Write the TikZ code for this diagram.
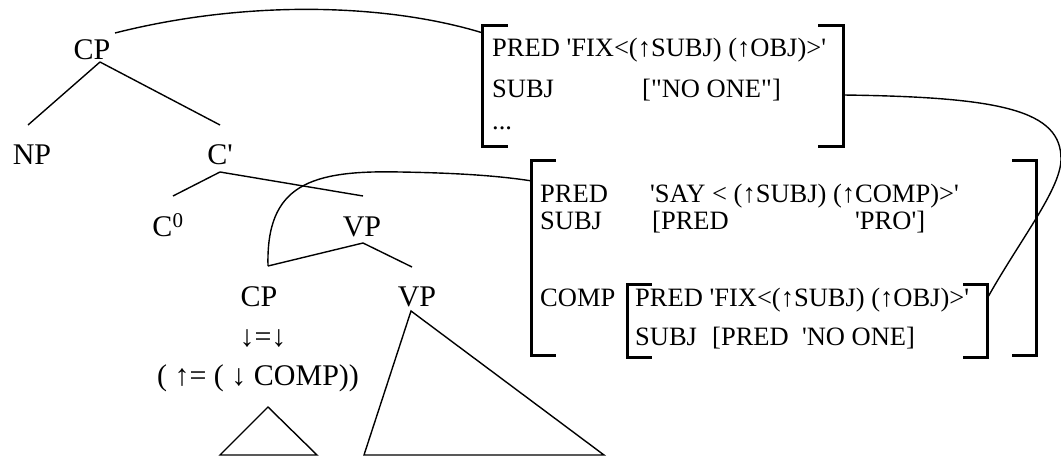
\documentclass[tikz,border=0pt]{standalone}
\usepackage{fontspec}
\setmainfont{Liberation Serif}
\newcommand\sq{\textquotesingle}
\newcommand\dq{\textquotedbl}
\begin{document}
\begin{tikzpicture}[x=1pt,y=-1pt,
  tree/.style={font=\fontsize{30}{36}\selectfont, inner sep=0pt, anchor=base},
  avm/.style={font=\fontsize{26.5}{30}\selectfont, inner sep=0pt, anchor=base west},
  brk/.style={line width=3pt},
  edge/.style={line width=1.4pt},
  link/.style={line width=1.4pt},
  fbox/.style={draw=none, inner sep=0pt}]
\useasboundingbox (0,0) rectangle (1061,457);

% ---------------- tree ----------------
\node[tree] (cp1) at (92,60) {CP};
\node[tree] (np) at (32,165) {NP};
\node[tree] (cbar) at (220,165) {C\sq};
\node[tree] (c0) at (168,237) {C\textsuperscript{0}};
\node[tree] (vp1) at (362,237) {VP};
\node[tree] (cp2) at (259,307) {CP};
\node[tree] (vp2) at (417,307) {VP};
\node[tree] (ann1) at (263,346) {↓=↓};
\node[tree] (ann2) at (258,385) {( ↑= ( ↓ COMP))};

\coordinate (cp1j) at (100,62);
\coordinate (npj) at (28,125);
\coordinate (cbj) at (220,125);
\coordinate (cbj2) at (220,172);
\coordinate (c0j) at (173,196);
\coordinate (vp1j) at (363,196);
\coordinate (vp1b) at (363,243);
\coordinate (cp2j) at (268,266);
\coordinate (vp2j) at (412,267);

\draw[edge] (cp1j) -- (npj);
\draw[edge] (cp1j) -- (cbj);
\draw[edge] (cbj2) -- (c0j);
\draw[edge] (cbj2) -- (vp1j);
\draw[edge] (vp1b) -- (cp2j);
\draw[edge] (vp1b) -- (vp2j);

% triangles
\coordinate (t1a) at (268,407);
\coordinate (t1l) at (220,455);
\coordinate (t1r) at (317,455);
\draw[edge] (t1a) -- (t1l) -- (t1r) -- cycle;
\coordinate (t2a) at (411,311);
\coordinate (t2l) at (364,455);
\coordinate (t2r) at (604,455);
\draw[edge] (t2a) -- (t2l) -- (t2r) -- cycle;

% ---------------- AVM frames ----------------
\node[fbox, minimum width=360pt, minimum height=120pt] (f1) at (663,86) {};
\node[fbox, minimum width=504pt, minimum height=194pt] (f2) at (784,258) {};
\node[fbox, minimum width=359pt, minimum height=72pt] (f3) at (807.5,321) {};

\foreach \f/\s in {f1/25pt, f2/24pt, f3/24pt}{
  \draw[brk] ([xshift=\s]\f.north west) -- (\f.north west) -- (\f.south west) -- ([xshift=\s]\f.south west);
  \draw[brk] ([xshift=-\s]\f.north east) -- (\f.north east) -- (\f.south east) -- ([xshift=-\s]\f.south east);
}

% AVM 1
\node[avm] (a1p) at (492,57) {PRED \sq FIX<(↑SUBJ) (↑OBJ)>\sq};
\node[avm] (a1s) at (492,98) {SUBJ};
\node[avm] (a1sv) at (642,98) {[\dq NO ONE\dq]};
\node[avm] (a1d) at (492,130) {...};

% AVM 2
\node[avm] (a2p) at (540,203) {PRED};
\node[avm] (a2pv) at (650,203) {\sq SAY < (↑SUBJ) (↑COMP)>\sq};
\node[avm] (a2s) at (540,230) {SUBJ};
\node[avm] (a2sv) at (652,230) {[PRED};
\node[avm] (a2sv2) at (855,230) {\sq PRO\sq]};
\node[avm] (a2c) at (540,307) {COMP};
\node[avm] (a3p) at (635,307) {PRED \sq FIX<(↑SUBJ) (↑OBJ)>\sq};
\node[avm] (a3s) at (635,345) {SUBJ};
\node[avm] (a3sv) at (712,345) {[PRED\ \ \sq NO ONE]};

% ---------------- links ----------------
\coordinate (c1s) at (115,33);
\coordinate (c1e) at (483,33);
\draw[link] (c1s) .. controls (245,0) and (385,3) .. (c1e);

\coordinate (c2e) at (532,181);
\draw[link] (cp2j) .. controls (266,185) and (310,170) .. (400,172)
  .. controls (460,173) and (500,176) .. (c2e);

\coordinate (c3s) at (843,95);
\coordinate (c3e) at (988,297);
\draw[link] (c3s) .. controls (1000,97) and (1062,110) .. (1061,160)
  .. controls (1060,190) and (1020,240) .. (c3e);
\end{tikzpicture}
\end{document}
